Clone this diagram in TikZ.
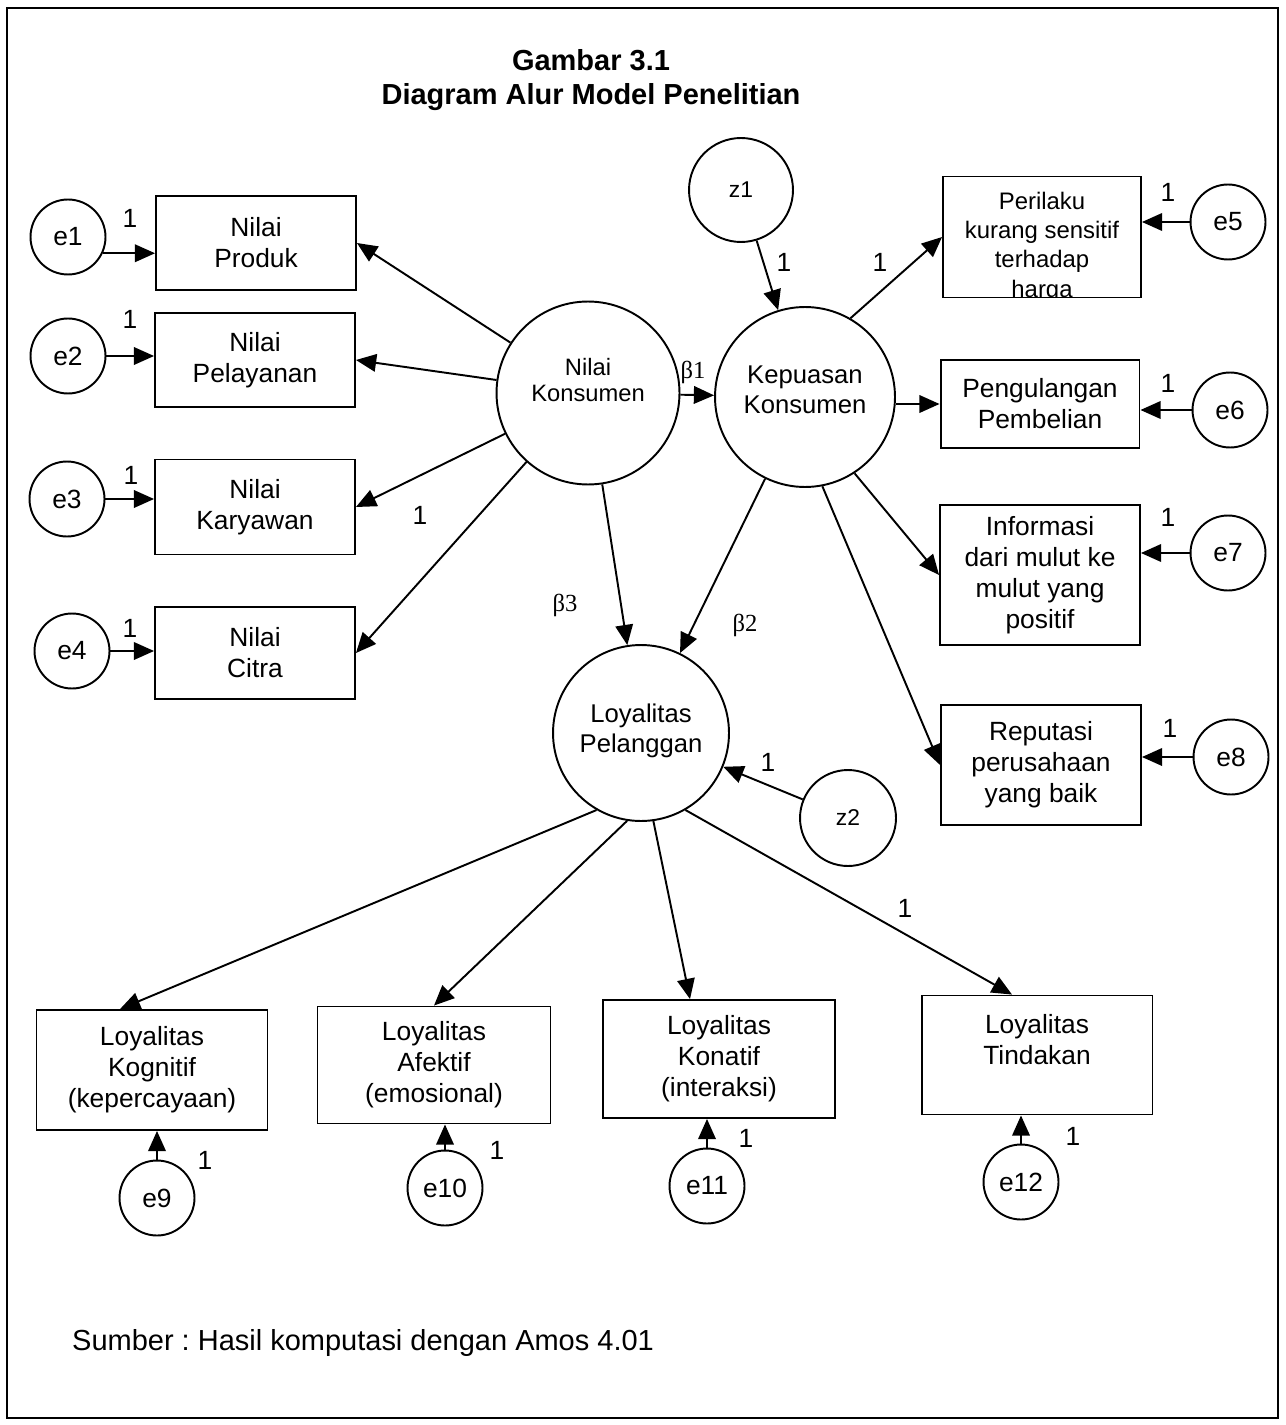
\documentclass[tikz,border=0pt]{standalone}
\usepackage{fontspec}
\setmainfont{Liberation Sans}
\newfontfamily\betafont{Liberation Serif}
\usetikzlibrary{arrows.meta}
\frenchspacing

\tikzset{
  obs/.style={draw, line width=1.1pt, align=center, inner sep=0pt,
    font=\fontsize{15}{17.6}\selectfont},
  lat/.style={circle, draw, line width=1.1pt, align=center, inner sep=0pt,
    font=\fontsize{14.6}{17}\selectfont},
  err/.style={circle, draw, line width=1.1pt, minimum size=1.5cm, inner sep=0pt,
    font=\fontsize{15}{18}\selectfont},
  arr/.style={line width=1.1pt, -{Triangle[length=11.5pt,width=10pt]}},
  one/.style={inner sep=0pt, font=\fontsize{15}{18}\selectfont},
  koef/.style={inner sep=0pt, font=\betafont\fontsize{14}{16}\selectfont}
}

\begin{document}
\begin{tikzpicture}[x=0.02cm, y=-0.02cm]
\useasboundingbox (0,0) rectangle (1285,1425);
\draw[line width=1.2pt] (7,8) rectangle (1278,1418);

% judul
\node[align=center, font=\bfseries\fontsize{16.5}{19}\selectfont] (judul) at (591,80)
  {Gambar 3.1\\Diagram Alur Model Penelitian};

% variabel laten
\node[lat, minimum size=3.66cm, font=\fontsize{13.5}{14.7}\selectfont] (nilai) at (588,393)
  {Nilai\\Konsumen\\\mbox{}};
\node[lat, minimum size=3.6cm] (kepuasan) at (805,397) {Kepuasan\\Konsumen\\[-0.3cm]\mbox{}};
\node[lat, minimum size=3.52cm] (loyal) at (641,733) {\mbox{}\\[-0.3cm]Loyalitas\\Pelanggan};
\node[lat, minimum size=2.08cm, font=\fontsize{13}{15}\selectfont] (z1) at (741,190) {z1};
\node[lat, minimum size=1.92cm, font=\fontsize{13}{15}\selectfont] (z2) at (848,818) {z2};

% indikator nilai konsumen
\node[obs, minimum width=4cm, minimum height=1.88cm] (produk) at (256,243) {Nilai\\Produk};
\node[obs, minimum width=4cm, minimum height=1.88cm] (pelayanan) at (255,360) {Nilai\\Pelayanan};
\node[obs, minimum width=4cm, minimum height=1.9cm] (karyawan) at (255,507) {Nilai\\Karyawan};
\node[obs, minimum width=4cm, minimum height=1.84cm] (citra) at (255,653) {Nilai\\Citra};

% indikator kepuasan
\node[obs, minimum width=3.96cm, minimum height=2.42cm,
  path picture={\node[align=center, font=\fontsize{13.6}{16.7}\selectfont]
    at ([yshift=-0.2cm]path picture bounding box.center)
    {Perilaku\\kurang sensitif\\terhadap\\harga};}] (perilaku) at (1042,237) {};
\node[obs, minimum width=3.98cm, minimum height=1.76cm] (pengulangan) at (1040,404) {Pengulangan\\Pembelian};
\node[obs, minimum width=4cm, minimum height=2.8cm] (informasi) at (1040,575)
  {Informasi\\dari mulut ke\\mulut yang\\positif};
\node[obs, minimum width=4cm, minimum height=2.4cm] (reputasi) at (1041,765)
  {Reputasi\\perusahaan\\yang baik};

% indikator loyalitas
\node[obs, minimum width=4.62cm, minimum height=2.4cm] (kognitif) at (152,1070)
  {Loyalitas\\Kognitif\\(kepercayaan)};
\node[obs, minimum width=4.66cm, minimum height=2.34cm] (afektif) at (434,1065)
  {Loyalitas\\Afektif\\(emosional)};
\node[obs, minimum width=4.64cm, minimum height=2.36cm] (konatif) at (719,1059)
  {Loyalitas\\Konatif\\(interaksi)};
\node[obs, minimum width=4.62cm, minimum height=2.38cm] (tindakan) at (1037,1055)
  {Loyalitas\\Tindakan\\\mbox{}};

% error
\foreach \nm/\x/\y in {e1/68/237, e2/68/356, e3/67/499, e4/72/651,
  e5/1228/222, e6/1230/410, e7/1228/553, e8/1231/757,
  e9/157/1198, e10/445/1188, e11/707/1186, e12/1021/1182}
  \node[err] (\nm) at (\x,\y) {\nm};

% jalur struktural
\draw[arr] (nilai) -- (kepuasan);
\draw[arr] (nilai) -- (loyal);
\draw[arr] (kepuasan) -- (loyal);
\draw[arr] (z1) -- (kepuasan);
\draw[arr] (z2) -- (loyal);

% jalur pengukuran
\draw[arr] (nilai) -- (produk.east);
\draw[arr] (nilai) -- (pelayanan.east);
\draw[arr] (nilai) -- (karyawan.east);
\draw[arr] (nilai) -- (citra.east);
\draw[arr] (kepuasan.60) -- (perilaku.west);
\draw[arr] (kepuasan.east |- pengulangan.west) -- (pengulangan.west);
\draw[arr] (kepuasan.-57) -- (informasi.west);
\draw[arr] (kepuasan.-79) -- (reputasi.west);
\draw[arr] (loyal.-120) -- ([xshift=-0.64cm]kognitif.north);
\draw[arr] (loyal.-99) -- (afektif.north);
\draw[arr] (loyal.-82) -- ([xshift=-0.58cm]konatif.north);
\draw[arr] (loyal.-60) -- ([xshift=-0.5cm]tindakan.north);

% error ke indikator
\draw[arr] (e1.-25) -- (e1.-25 -| produk.west);
\draw[arr] (e2.east) -- (e2.east -| pelayanan.west);
\draw[arr] (e3.east) -- (e3.east -| karyawan.west);
\draw[arr] (e4.east) -- (e4.east -| citra.west);
\draw[arr] (e5.west) -- (e5.west -| perilaku.east);
\draw[arr] (e6.west) -- (e6.west -| pengulangan.east);
\draw[arr] (e7.west) -- (e7.west -| informasi.east);
\draw[arr] (e8.west) -- (e8.west -| reputasi.east);
\draw[arr] (e9.north) -- (e9.north |- kognitif.south);
\draw[arr] (e10.north) -- (e10.north |- afektif.south);
\draw[arr] (e11.north) -- (e11.north |- konatif.south);
\draw[arr] (e12.north) -- (e12.north |- tindakan.south);

% bobot 1
\foreach \nm/\x/\y in {a/130/218, b/130/319, c/131/475, d/130/628,
  e/1168/192, f/1168/383, g/1168/517, h/1170/728,
  i/784/262, j/880/262, k/420/515, l/768/762, m/905/908,
  n/205/1160, o/497/1150, p/746/1138, q/1073/1136}
  \node[one] (satu\nm) at (\x,\y) {1};

% koefisien
\node[koef] (b1) at (693,372) {β1};
\node[koef] (b2) at (745,625) {β2};
\node[koef] (b3) at (565,605) {β3};

\node[anchor=west, font=\fontsize{16.5}{20}\selectfont] (sumber) at (66,1343)
  {Sumber : Hasil komputasi dengan Amos 4.01};
\end{tikzpicture}
\end{document}
